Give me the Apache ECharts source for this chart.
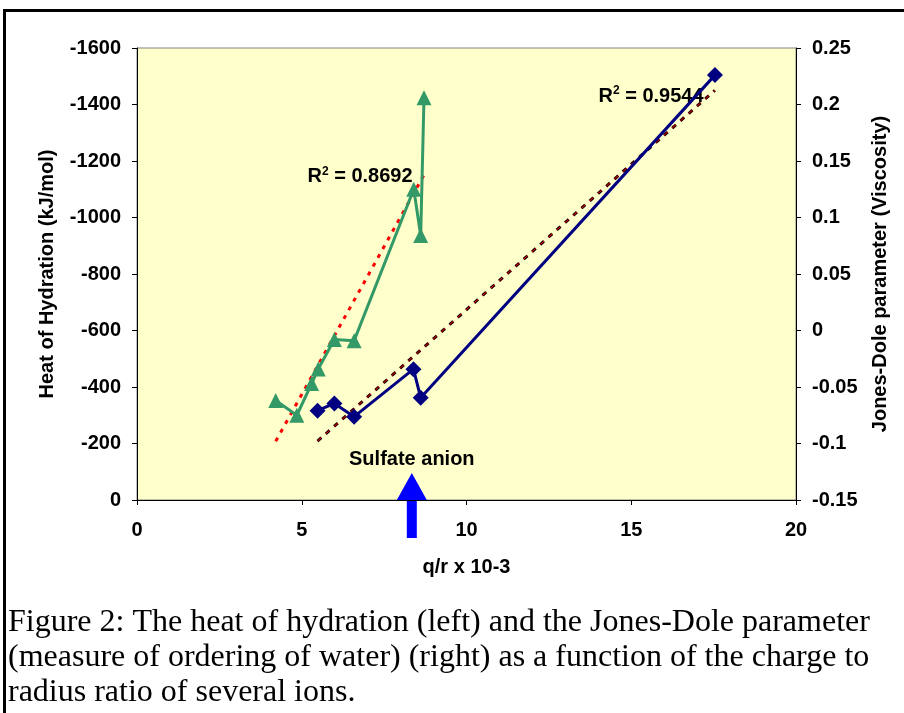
<!DOCTYPE html>
<html>
<head>
<meta charset="utf-8">
<script src="https://cdn.jsdelivr.net/npm/echarts@6/dist/echarts.min.js"></script>
<style>
  html, body { margin: 0; padding: 0; background: #fff; }
  #main { width: 904px; height: 713px; }
</style>
</head>
<body>
<div id="main"></div>
<script>
    // heat of hydration (left axis, kJ/mol)
    var heatX = [5.48, 5.99, 6.59, 8.39, 8.61, 17.54];
    var heatY = [-316, -342, -295, -463, -362, -1504];
    // Jones-Dole B (right axis)
    var jdX = [4.21, 4.85, 5.30, 5.50, 5.99, 6.59, 8.40, 8.61, 8.71];
    var jdY = [-0.062, -0.075, -0.047, -0.034, -0.008, -0.009, 0.125, 0.084, 0.206];
    var sulfateX = 8.34;
    var caption = [
        'Figure 2: The heat of hydration (left) and the Jones-Dole parameter',
        '(measure of ordering of water) (right) as a function of the charge to',
        'radius ratio of several ions.'
    ];

    function pairs(xs, ys) {
        return xs.map(function (x, i) { return [x, ys[i]]; });
    }
    // least squares line over the x range of the data
    function trend(xs, ys) {
        var n = xs.length, mx = 0, my = 0, sxy = 0, sxx = 0;
        for (var i = 0; i < n; i++) { mx += xs[i] / n; my += ys[i] / n; }
        for (var i = 0; i < n; i++) {
            sxy += (xs[i] - mx) * (ys[i] - my);
            sxx += (xs[i] - mx) * (xs[i] - mx);
        }
        var b = sxy / sxx, a = my - b * mx;
        var x0 = Math.min.apply(null, xs), x1 = Math.max.apply(null, xs);
        return [[x0, a + b * x0], [x1, a + b * x1]];
    }

    var font = 'Liberation Sans';
    var txt = { fontFamily: font, fontWeight: 'bold', fontSize: 20, color: '#000' };
    var heatTrend = trend(heatX, heatY);
    var jdTrend = trend(jdX, jdY);

    var myChart = echarts.init(document.getElementById('main'));
    option = {
        animation: false,
        grid: {
            left: 137, top: 48, width: 659, height: 452,
            show: true, backgroundColor: '#FFFFCC',
            borderColor: '#808080', borderWidth: 1
        },
        xAxis: {
            type: 'value', min: 0, max: 20, interval: 5,
            name: 'q/r x 10-3', nameLocation: 'middle', nameGap: 57,
            nameTextStyle: txt,
            axisLine: { lineStyle: { color: '#000', width: 1 } },
            axisTick: { length: 5, lineStyle: { color: '#000' } },
            axisLabel: Object.assign({ margin: 20 }, txt),
            splitLine: { show: false }
        },
        yAxis: [
            {
                type: 'value', min: -1600, max: 0, interval: 200, inverse: true,
                name: 'Heat of Hydration (kJ/mol)', nameLocation: 'middle',
                nameGap: 80, nameRotate: 90, nameTextStyle: txt,
                axisLine: { show: true, lineStyle: { color: '#000', width: 1 } },
                axisTick: { show: true, length: 5, lineStyle: { color: '#000' } },
                axisLabel: Object.assign({
                    margin: 16,
                    formatter: function (v) { return String(v); }
                }, txt),
                splitLine: { show: false }
            },
            {
                type: 'value', min: -0.15, max: 0.25, interval: 0.05, position: 'right',
                name: 'Jones-Dole parameter (Viscosity)', nameLocation: 'middle',
                nameGap: 74, nameRotate: 90, nameTextStyle: txt,
                axisLine: { show: true, lineStyle: { color: '#000', width: 1 } },
                axisTick: { show: true, length: 5, lineStyle: { color: '#000' } },
                axisLabel: Object.assign({
                    margin: 16,
                    formatter: function (v) { return String(parseFloat(v.toFixed(2))); }
                }, txt),
                splitLine: { show: false }
            }
        ],
        series: [
            {
                name: 'heat trend', type: 'line', yAxisIndex: 0, data: heatTrend,
                showSymbol: false, silent: true,
                lineStyle: { color: '#1a0000', width: 3, type: [5, 6] }
            },
            {
                name: 'heat trend red', type: 'line', yAxisIndex: 0, data: heatTrend,
                showSymbol: false, silent: true,
                lineStyle: { color: '#ff0000', width: 1, type: [5, 6] }
            },
            {
                name: 'Jones-Dole trend', type: 'line', yAxisIndex: 1, data: jdTrend,
                showSymbol: false, silent: true,
                lineStyle: { color: '#ff0000', width: 3, type: [4, 6] }
            },
            {
                name: 'Heat of Hydration', type: 'line', yAxisIndex: 0,
                data: pairs(heatX, heatY),
                symbol: 'diamond', symbolSize: 16,
                itemStyle: { color: '#000080' },
                lineStyle: { color: '#000080', width: 3 }
            },
            {
                name: 'Jones-Dole', type: 'line', yAxisIndex: 1,
                data: pairs(jdX, jdY),
                symbol: 'triangle', symbolSize: 15,
                itemStyle: { color: '#339966' },
                lineStyle: { color: '#339966', width: 3 }
            }
        ]
    };
    myChart.setOption(option);

    // annotations placed from the axes
    var pArrow = myChart.convertToPixel({ xAxisIndex: 0, yAxisIndex: 0 }, [sulfateX, 0]);
    var pR1 = myChart.convertToPixel({ xAxisIndex: 0, yAxisIndex: 1 }, [6.77, 0.136]);
    var pR2 = myChart.convertToPixel({ xAxisIndex: 0, yAxisIndex: 0 }, [15.6, -1430]);
    var ax = pArrow[0], ay = pArrow[1];
    var sup = { fontFamily: font, fontWeight: 'bold', fontSize: 12, verticalAlign: 'top', padding: [0, 0, 10, 0] };

    myChart.setOption({
        graphic: [
            {
                type: 'rect', silent: true,
                shape: { x: 4.5, y: 10.5, width: 1000, height: 800 },
                style: { fill: null, stroke: '#000', lineWidth: 3 }
            },
            {
                type: 'polygon', silent: true,
                shape: { points: [
                    [ax, ay - 27], [ax + 15, ay], [ax + 5, ay], [ax + 5, ay + 38],
                    [ax - 5, ay + 38], [ax - 5, ay], [ax - 15, ay]
                ] },
                style: { fill: '#0000FF' }
            },
            {
                type: 'text', silent: true, x: ax, y: ay - 41,
                style: { text: 'Sulfate anion', fontFamily: font, fontWeight: 'bold', fontSize: 20,
                    fill: '#000', align: 'center', verticalAlign: 'middle' }
            },
            {
                type: 'text', silent: true, x: pR1[0], y: pR1[1],
                style: { text: 'R{s|2} = 0.8692', rich: { s: sup }, fontFamily: font,
                    fontWeight: 'bold', fontSize: 20, fill: '#000', align: 'center', verticalAlign: 'middle' }
            },
            {
                type: 'text', silent: true, x: pR2[0], y: pR2[1],
                style: { text: 'R{s|2} = 0.9544', rich: { s: sup }, fontFamily: font,
                    fontWeight: 'bold', fontSize: 20, fill: '#000', align: 'center', verticalAlign: 'middle' }
            },
            {
                type: 'text', silent: true, left: 8, top: 605,
                style: { text: caption.join('\n'), fontFamily: 'Liberation Serif',
                    fontSize: 32, lineHeight: 35, fill: '#000' }
            }
        ]
    });
</script>
</body>
</html>
